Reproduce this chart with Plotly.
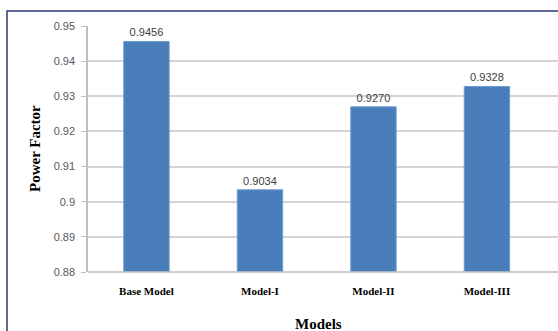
import plotly.graph_objects as go

categories = ["Base Model", "Model-I", "Model-II", "Model-III"]
power_factor = [0.9456, 0.9034, 0.9270, 0.9328]
value_labels = ["0.9456", "0.9034", "0.9270", "0.9328"]
y_tick_vals = [0.88, 0.89, 0.90, 0.91, 0.92, 0.93, 0.94, 0.95]
y_tick_text = ["0.88", "0.89", "0.9", "0.91", "0.92", "0.93", "0.94", "0.95"]
y_base = 0.88

W, H = 558, 331
L, R, T, B = 88, 0, 26, 59
pw, ph = W - L - R, H - T - B

def px_x(p):
    return (p - L) / pw

def px_y(p):
    return 1 + (T - p) / ph

fig = go.Figure()
fig.add_trace(go.Bar(
    x=list(range(len(categories))),
    y=[v - y_base for v in power_factor],
    base=y_base,
    width=0.4,
    marker=dict(color="#4a7ebb", line=dict(color="#6f9bd1", width=1)),
    text=value_labels,
    textposition="outside",
    textfont=dict(family="Liberation Sans", size=11, color="#404040"),
    cliponaxis=False,
))

fig.update_layout(
    width=W, height=H,
    margin=dict(l=L, r=R, t=T, b=B, pad=0),
    paper_bgcolor="white",
    plot_bgcolor="white",
    showlegend=False,
    xaxis=dict(
        range=[-0.515, 3.626],
        tickvals=list(range(len(categories))),
        ticktext=categories,
        tickfont=dict(family="Liberation Serif", size=11, color="black", weight="bold"),
        showgrid=False,
        showline=False,
        ticks="",
        zeroline=False,
        ticklabelstandoff=11,
    ),
    yaxis=dict(
        range=[0.88, 0.95],
        tickvals=y_tick_vals,
        ticktext=y_tick_text,
        tickfont=dict(family="Liberation Sans", size=11, color="#595959"),
        showgrid=True,
        gridcolor="#d4d4d4",
        gridwidth=1.5,
        showline=True,
        linecolor="#bfbfbf",
        linewidth=1.5,
        ticks="outside",
        ticklen=5,
        tickcolor="#bfbfbf",
        zeroline=False,
        ticklabelstandoff=4,
    ),
    font=dict(family="Liberation Serif"),
)

# bottom axis line at 0.88
fig.add_shape(type="line", xref="paper", yref="paper", x0=0, x1=1, y0=0, y1=0,
              line=dict(color="#bfbfbf", width=1.5))

# outer frame
fig.add_shape(type="rect", xref="paper", yref="paper",
              x0=px_x(7), x1=px_x(566), y0=px_y(340), y1=px_y(11),
              line=dict(color="#2b3a78", width=1.5), layer="above")

fig.add_annotation(text="Power Factor", xref="paper", yref="paper",
                   x=px_x(35), y=px_y(149), textangle=-90, showarrow=False,
                   font=dict(family="Liberation Serif", size=15, color="black", weight="bold"),
                   xanchor="center", yanchor="middle")
fig.add_annotation(text="Models", xref="paper", yref="paper",
                   x=px_x(318), y=px_y(324), showarrow=False,
                   font=dict(family="Liberation Serif", size=15, color="black", weight="bold"),
                   xanchor="center", yanchor="middle")
fig.add_annotation(text="machine as in Model-III.", xref="paper", yref="paper",
                   x=px_x(258), y=px_y(3), showarrow=False,
                   font=dict(family="Liberation Serif", size=17, color="black", weight="bold"),
                   xanchor="right", yanchor="bottom")

fig.write_html("out.html")
